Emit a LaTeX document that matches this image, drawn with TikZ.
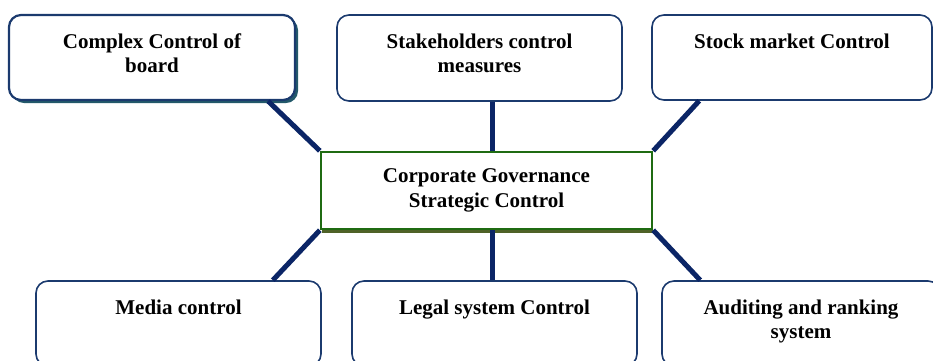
\documentclass[tikz,border=0pt]{standalone}
\usepackage{fontspec}
\setmainfont{Liberation Serif}
\usetikzlibrary{shadows}
\definecolor{linknavy}{HTML}{0B2566}
\definecolor{boxnavy}{HTML}{1B3A6E}
\definecolor{cggreen}{HTML}{1F6B12}
\definecolor{cgshade}{HTML}{4F6228}
\definecolor{tlshade}{HTML}{23596A}
\tikzset{
	ctrlbox/.style={draw=boxnavy, line width=1.6pt, rounded corners=12pt, fill=white,
		minimum width=285pt, minimum height=85pt, inner sep=0pt},
	ctrltext/.style={font=\bfseries\fontsize{21}{24.5}\selectfont, align=center,
		inner sep=0pt, anchor=north},
	link/.style={draw=linknavy, line width=5pt}
}

\begin{document}
\begin{tikzpicture}[x=1pt, y=-1pt]
		%%%%% START %%%%%
		\clip (0, 0) rectangle (933, 360);
		
		% top row
		\node[ctrlbox, line width=2.2pt, minimum width=286pt,
			drop shadow={shadow xshift=3pt, shadow yshift=-3pt, fill=tlshade, opacity=1}] (tl) at (152, 57.5) {};
		\node[ctrlbox, minimum height=86pt] (tm) at (479.5, 58) {};
		\node[ctrlbox, minimum width=280pt] (tr) at (792, 57.5) {};
		
		\node[ctrltext] (tltext) at ([yshift=-19.5pt]tl.north) {Complex Control of\\board};
		\node[ctrltext] (tmtext) at ([yshift=-19.5pt]tm.north) {Stakeholders control\\measures};
		\node[ctrltext] (trtext) at ([yshift=-19.5pt]tr.north) {Stock market Control};
		
		% centre
		\node[draw=cggreen, line width=2.4pt, fill=white, minimum width=331pt, minimum height=77pt,
			drop shadow={shadow xshift=1pt, shadow yshift=-4pt, fill=cgshade, opacity=1}] (cg) at (486.5, 190.5) {};
		\node[ctrltext, anchor=center] (cgtext) at (cg) {Corporate Governance\\Strategic Control};
		
		% bottom row
		\node[ctrlbox] (bl) at (178.5, 323.5) {};
		\node[ctrlbox] (bm) at (494.5, 323.5) {};
		\node[ctrlbox, minimum width=278pt] (br) at (801, 323.5) {};
		
		\node[ctrltext] (bltext) at ([yshift=-19.5pt]bl.north) {Media control};
		\node[ctrltext] (bmtext) at ([yshift=-19.5pt]bm.north) {Legal system Control};
		\node[ctrltext] (brtext) at ([yshift=-19.5pt]br.north) {Auditing and ranking\\system};
		
		% links
		\coordinate (midx) at (492, 0);
		\draw[link] ([xshift=-28pt]tl.south east) -- (cg.north west);
		\draw[link] (midx |- tm.south) -- (midx |- cg.north);
		\draw[link] ([xshift=48pt]tr.south west) -- (cg.north east);
		\draw[link] (cg.south west) -- ([xshift=-49pt]bl.north east);
		\draw[link] (midx |- cg.south) -- (midx |- bm.north);
		\draw[link] (cg.south east) -- ([xshift=39pt]br.north west);
		
		%%%%% END %%%%%
\end{tikzpicture}
\end{document}
